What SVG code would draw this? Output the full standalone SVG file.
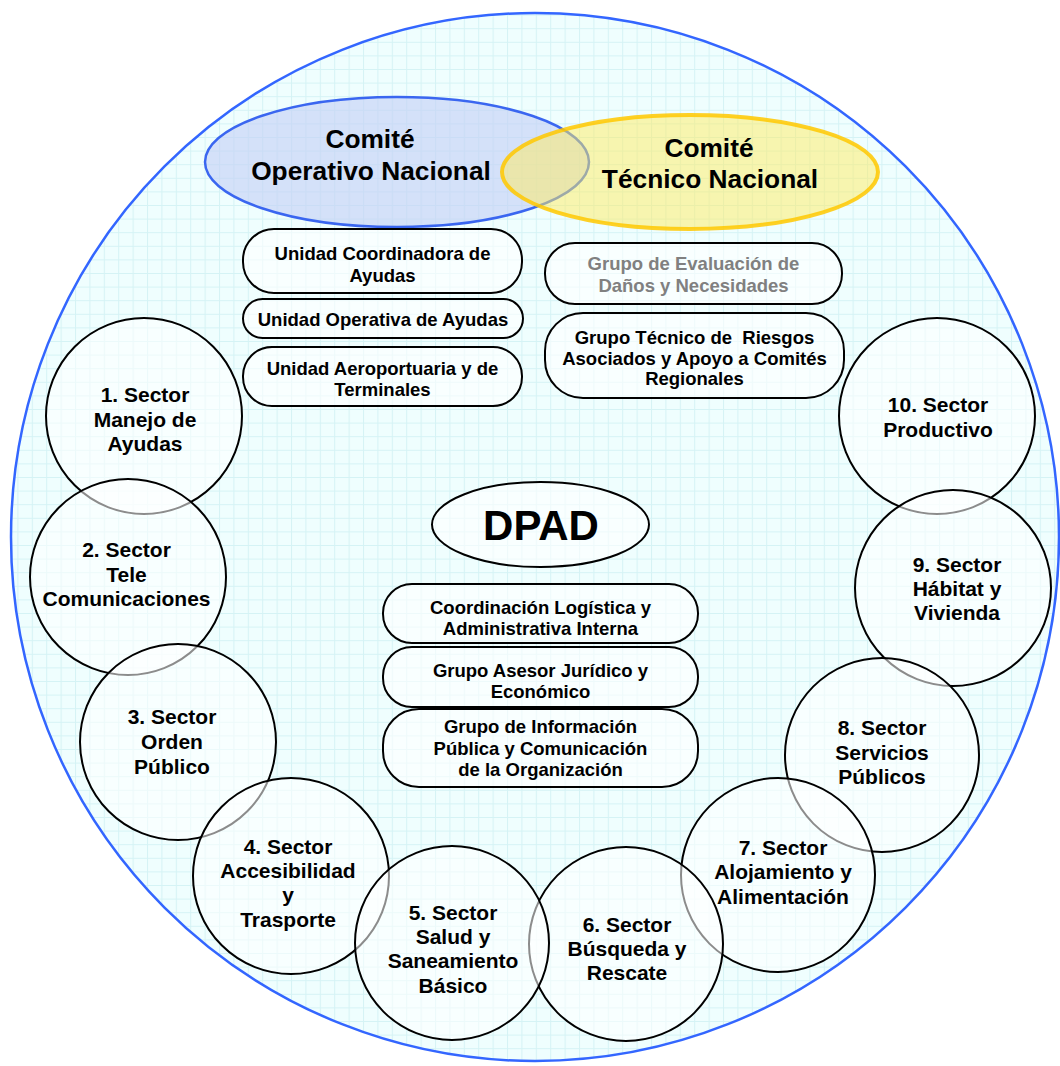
<svg xmlns="http://www.w3.org/2000/svg" width="1060" height="1066" viewBox="0 0 1060 1066">
<style>
.t { font-family: "Liberation Sans", Arial, sans-serif; font-weight: bold; fill: #000; text-anchor: middle; }
.c { font-size: 21px; }
.b { font-size: 18.5px; }
.k { font-size: 26.3px; }
.gray { fill: #808080; }
.sector { fill: #ffffff; fill-opacity: 0.55; stroke: #000; stroke-width: 2; }
.box { fill: #ffffff; fill-opacity: 0.6; stroke: #000; stroke-width: 2; }
</style>
<defs>
<pattern id="grid" patternUnits="userSpaceOnUse" x="507" y="1" width="14.4" height="13.6">
<rect width="14.4" height="13.6" fill="#effefe"/>
<path d="M0 0.5H14.4M0.5 0V13.6" stroke="#d5f3f5" stroke-width="1" fill="none"/>
</pattern>
</defs>
<rect width="1060" height="1066" fill="#ffffff"/>
<g id="frame">
<circle cx="535" cy="537" r="524" fill="url(#grid)" stroke="#3366ff" stroke-width="2.5"/>
</g>
<g id="comite-operativo">
<ellipse cx="397" cy="162" rx="192" ry="65" fill="#c4d1f6" fill-opacity="0.65" stroke="#3a66f0" stroke-width="2.5"/>
</g>
<g id="comite-tecnico">
<ellipse cx="690" cy="172" rx="188" ry="57" fill="#ffec60" fill-opacity="0.5" stroke="#ffc800" stroke-width="4" stroke-opacity="0.85"/>
</g>
<g id="comite-labels">
<text class="t k" x="370" y="148">Comité</text>
<text class="t k" x="371" y="180">Operativo Nacional</text>
<text class="t k" x="709" y="157">Comité</text>
<text class="t k" x="710" y="188">Técnico Nacional</text>
</g>
<g id="connectors"></g>
<g id="unidad-coordinadora">
<rect class="box" x="243" y="229" width="279" height="64" rx="31" ry="31"/>
<text class="t b" x="382.5" y="259.5">Unidad Coordinadora de</text>
<text class="t b" x="382.5" y="281.5">Ayudas</text>
</g>
<g id="unidad-operativa">
<rect class="box" x="243" y="299" width="280" height="39" rx="19.5" ry="19.5"/>
<text class="t b" x="383" y="325.5">Unidad Operativa de Ayudas</text>
</g>
<g id="unidad-aeroportuaria">
<rect class="box" x="243" y="347" width="279" height="59" rx="29" ry="29"/>
<text class="t b" x="382.5" y="374.5">Unidad Aeroportuaria y de</text>
<text class="t b" x="382.5" y="395.5">Terminales</text>
</g>
<g id="grupo-evaluacion">
<rect class="box" x="545" y="243" width="297" height="61" rx="30" ry="30"/>
<text class="t b gray" x="693.5" y="269.5">Grupo de Evaluación de</text>
<text class="t b gray" x="693.5" y="291.5">Daños y Necesidades</text>
</g>
<g id="grupo-tecnico">
<rect class="box" x="545" y="313" width="299" height="85" rx="38" ry="38"/>
<text class="t b" x="694.5" y="343.5">Grupo Técnico de&#160; Riesgos</text>
<text class="t b" x="694.5" y="364.5">Asociados y Apoyo a Comités</text>
<text class="t b" x="694.5" y="385">Regionales</text>
</g>
<g id="dpad">
<ellipse cx="540.5" cy="524.5" rx="108.5" ry="42.5" fill="#ffffff" fill-opacity="0.6" stroke="#000" stroke-width="2"/>
<text class="t" x="541" y="540" font-size="42">DPAD</text>
</g>
<g id="coordinacion-logistica">
<rect class="box" x="383" y="584" width="315" height="59" rx="29" ry="29"/>
<text class="t b" x="540.5" y="614">Coordinación Logística y</text>
<text class="t b" x="540.5" y="635">Administrativa Interna</text>
</g>
<g id="grupo-asesor">
<rect class="box" x="383" y="647" width="315" height="60" rx="29" ry="29"/>
<text class="t b" x="540.5" y="677">Grupo Asesor Jurídico y</text>
<text class="t b" x="540.5" y="698">Económico</text>
</g>
<g id="grupo-informacion">
<rect class="box" x="383" y="709" width="315" height="78" rx="36" ry="36"/>
<text class="t b" x="540.5" y="733">Grupo de Información</text>
<text class="t b" x="540.5" y="754.5">Pública y Comunicación</text>
<text class="t b" x="540.5" y="775.5">de la Organización</text>
</g>
<g id="sector-10">
<circle class="sector" cx="937" cy="416" r="98"/>
<text class="t c" x="938" y="412">10. Sector</text>
<text class="t c" x="938" y="437">Productivo</text>
</g>
<g id="sector-9">
<circle class="sector" cx="953" cy="588" r="98"/>
<text class="t c" x="957" y="572">9. Sector</text>
<text class="t c" x="957" y="596">Hábitat y</text>
<text class="t c" x="957" y="620">Vivienda</text>
</g>
<g id="sector-8">
<circle class="sector" cx="882" cy="755" r="97"/>
<text class="t c" x="882" y="735">8. Sector</text>
<text class="t c" x="882" y="760">Servicios</text>
<text class="t c" x="882" y="784">Públicos</text>
</g>
<g id="sector-7">
<circle class="sector" cx="778" cy="875" r="97"/>
<text class="t c" x="783" y="855">7. Sector</text>
<text class="t c" x="783" y="879">Alojamiento y</text>
<text class="t c" x="783" y="904">Alimentación</text>
</g>
<g id="sector-6">
<circle class="sector" cx="626" cy="944" r="97"/>
<text class="t c" x="627" y="932">6. Sector</text>
<text class="t c" x="627" y="956">Búsqueda y</text>
<text class="t c" x="627" y="980">Rescate</text>
</g>
<g id="sector-1">
<circle class="sector" cx="144" cy="416" r="98"/>
<text class="t c" x="145" y="402">1. Sector</text>
<text class="t c" x="145" y="427">Manejo de</text>
<text class="t c" x="145" y="451">Ayudas</text>
</g>
<g id="sector-2">
<circle class="sector" cx="128" cy="577" r="98"/>
<text class="t c" x="126.5" y="557">2. Sector</text>
<text class="t c" x="126.5" y="582">Tele</text>
<text class="t c" x="126.5" y="606">Comunicaciones</text>
</g>
<g id="sector-3">
<circle class="sector" cx="178" cy="742" r="98"/>
<text class="t c" x="172" y="724">3. Sector</text>
<text class="t c" x="172" y="749">Orden</text>
<text class="t c" x="172" y="774">Público</text>
</g>
<g id="sector-4">
<circle class="sector" cx="291" cy="876" r="98"/>
<text class="t c" x="288" y="854">4. Sector</text>
<text class="t c" x="288" y="878">Accesibilidad</text>
<text class="t c" x="288" y="902">y</text>
<text class="t c" x="288" y="927">Trasporte</text>
</g>
<g id="sector-5">
<circle class="sector" cx="452" cy="943" r="97"/>
<text class="t c" x="453" y="920">5. Sector</text>
<text class="t c" x="453" y="944">Salud y</text>
<text class="t c" x="453" y="968">Saneamiento</text>
<text class="t c" x="453" y="993">Básico</text>
</g>
</svg>
